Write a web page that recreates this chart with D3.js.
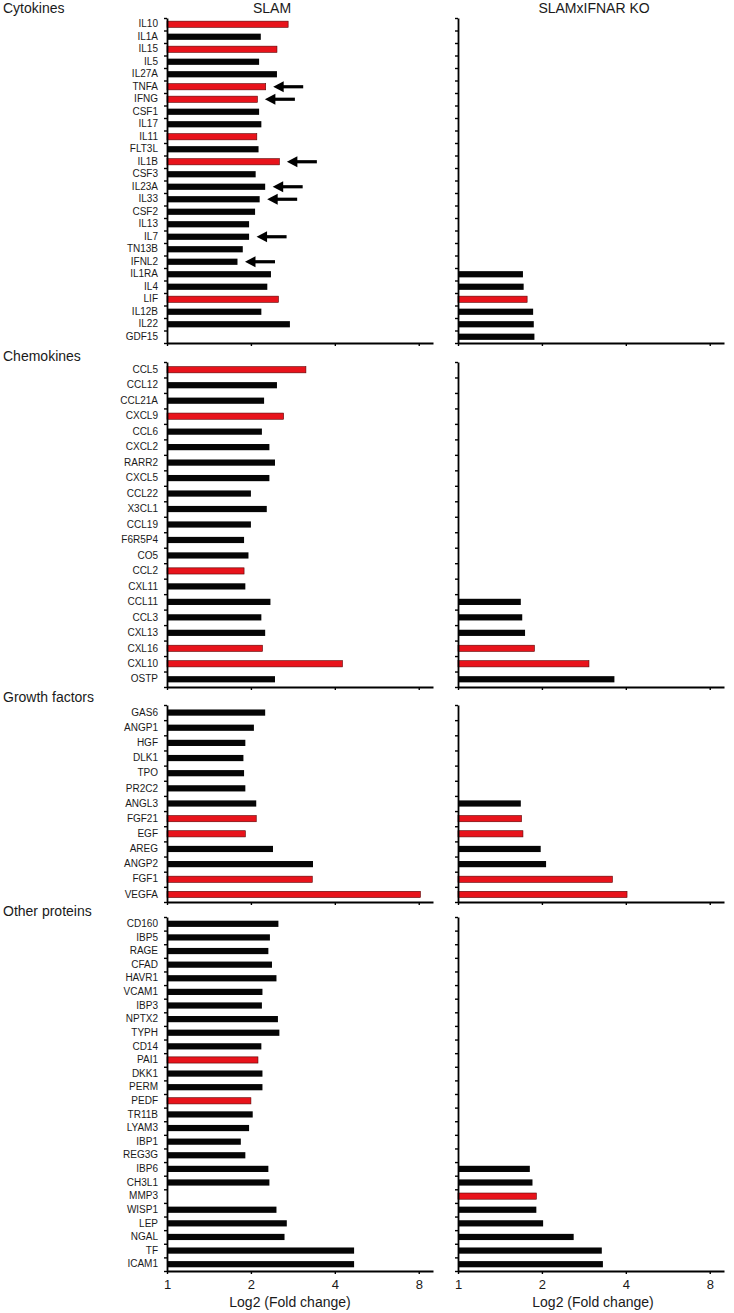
<!DOCTYPE html>
<html><head><meta charset="utf-8">
<script src="https://cdn.jsdelivr.net/npm/d3@7"></script>
<style>
body{margin:0;background:#fff}
svg{display:block}
text{font-family:"Liberation Sans",Arial,sans-serif;fill:#1a1a1a}
</style>
</head><body><svg id="c" width="734" height="1313"></svg>
<script>
const columnTitles = ["SLAM", "SLAMxIFNAR KO"];
const groupNames = ["Cytokines", "Chemokines", "Growth factors", "Other proteins"];
const xTicks = [1, 2, 4, 8];
const xAxisTitle = "Log2 (Fold change)";

const cytokineLabels = ["IL10","IL1A","IL15","IL5","IL27A","TNFA","IFNG","CSF1","IL17","IL11","FLT3L","IL1B","CSF3","IL23A","IL33","CSF2","IL13","IL7","TN13B","IFNL2","IL1RA","IL4","LIF","IL12B","IL22","GDF15"];
const cytokineSLAM = [2.72,2.17,2.48,2.14,2.48,2.26,2.11,2.14,2.18,2.10,2.13,2.53,2.08,2.25,2.15,2.07,1.97,1.97,1.87,1.79,2.36,2.29,2.51,2.18,2.76,null];
const cytokineKO = [null,null,null,null,null,null,null,null,null,null,null,null,null,null,null,null,null,null,null,null,1.71,1.72,1.77,1.86,1.87,1.88];
const cytokineRed = ["IL10","IL15","TNFA","IFNG","IL11","IL1B","LIF"];
const cytokineArrows = ["TNFA","IFNG","IL1B","IL23A","IL33","IL7","IFNL2"];

const chemokineLabels = ["CCL5","CCL12","CCL21A","CXCL9","CCL6","CXCL2","RARR2","CXCL5","CCL22","X3CL1","CCL19","F6R5P4","CO5","CCL2","CXL11","CCL11","CCL3","CXL13","CXL16","CXL10","OSTP"];
const chemokineSLAM = [3.15,2.48,2.23,2.62,2.19,2.33,2.44,2.33,2.00,2.28,2.00,1.89,1.96,1.89,1.91,2.35,2.18,2.25,2.20,4.26,2.44];
const chemokineKO = [null,null,null,null,null,null,null,null,null,null,null,null,null,null,null,1.68,1.70,1.74,1.88,2.95,3.64];
const chemokineRed = ["CCL5","CXCL9","CCL2","CXL16","CXL10"];

const growthLabels = ["GAS6","ANGP1","HGF","DLK1","TPO","PR2C2","ANGL3","FGF21","EGF","AREG","ANGP2","FGF1","VEGFA"];
const growthSLAM = [2.25,2.05,1.91,1.88,1.89,1.91,2.09,2.09,1.91,2.40,3.34,3.32,8.11];
const growthKO = [null,null,null,null,null,null,1.68,1.69,1.71,1.98,2.07,3.58,4.04];
const growthRed = ["FGF21","EGF","FGF1","VEGFA"];

const otherLabels = ["CD160","IBP5","RAGE","CFAD","HAVR1","VCAM1","IBP3","NPTX2","TYPH","CD14","PAI1","DKK1","PERM","PEDF","TR11B","LYAM3","IBP1","REG3G","IBP6","CH3L1","MMP3","WISP1","LEP","NGAL","TF","ICAM1"];
const otherSLAM = [2.51,2.34,2.31,2.38,2.47,2.20,2.19,2.50,2.53,2.18,2.12,2.20,2.20,2.00,2.03,1.97,1.84,1.91,2.31,2.33,null,2.47,2.69,2.64,4.69,4.69];
const otherKO = [null,null,null,null,null,null,null,null,null,null,null,null,null,null,null,null,null,null,1.81,1.85,1.91,1.91,2.02,2.60,3.28,3.31];
const otherRed = ["PAI1","PEDF","MMP3"];

// ---- layout ----
const groups = [
  {name: groupNames[0], labels: cytokineLabels, series: [cytokineSLAM, cytokineKO], red: cytokineRed, arrows: cytokineArrows},
  {name: groupNames[1], labels: chemokineLabels, series: [chemokineSLAM, chemokineKO], red: chemokineRed, arrows: []},
  {name: groupNames[2], labels: growthLabels, series: [growthSLAM, growthKO], red: growthRed, arrows: []},
  {name: groupNames[3], labels: otherLabels, series: [otherSLAM, otherKO], red: otherRed, arrows: []}
];
const rows = [
  {top: 18, bottom: 343, titleY: 13},
  {top: 362, bottom: 687, titleY: 361},
  {top: 705, bottom: 902, titleY: 702},
  {top: 917, bottom: 1271, titleY: 916}
];
const cols = [[167, 433], [458, 724]];
const colTitleX = [272, 594];
const axisTitleX = [290, 593];
const RED = "#e8131b";
const BAR_H = 6.2;

const svg = d3.select("#c");

columnTitles.forEach((t, i) => {
  svg.append("text").attr("x", colTitleX[i]).attr("y", 13)
    .attr("text-anchor", "middle").attr("font-size", 14).text(t);
});

groups.forEach((g, gi) => {
  const r = rows[gi];
  svg.append("text").attr("x", 3).attr("y", r.titleY).attr("font-size", 14).text(g.name);
  const y = d3.scaleBand().domain(g.labels).range([r.top, r.bottom]).paddingInner(0).paddingOuter(0);
  const n = g.labels.length;
  const yB = d3.scaleLinear().domain([0, n]).range([r.top, r.bottom]);

  cols.forEach((cr, ci) => {
    const x = d3.scaleLog().base(2).domain([1, 9]).range(cr);
    const gp = svg.append("g");
    const data = g.labels.map((l, i) => ({label: l, v: g.series[ci][i]})).filter(d => d.v != null);

    // bars
    gp.selectAll("rect.bar").data(data).join("rect")
      .attr("class", "bar")
      .attr("x", x(1))
      .attr("y", d => y(d.label) + (y.bandwidth() - BAR_H) / 2)
      .attr("width", d => x(d.v) - x(1))
      .attr("height", BAR_H)
      .attr("fill", d => g.red.includes(d.label) ? RED : "#050505")
      .attr("stroke", d => g.red.includes(d.label) ? "#5a0000" : "none")
      .attr("stroke-width", 0.6);

    // arrows (SLAM only)
    if (ci === 0) {
      const ad = data.filter(d => g.arrows.includes(d.label));
      const ag = gp.selectAll("g.arrow").data(ad).join("g").attr("class", "arrow")
        .attr("transform", d => `translate(${x(d.v) + 7.5},${y(d.label) + y.bandwidth() / 2})`);
      ag.append("line").attr("x1", 9).attr("x2", 30).attr("y1", 0).attr("y2", 0)
        .attr("stroke", "#000").attr("stroke-width", 3.2);
      ag.append("path").attr("d", "M0,0L10.5,-5.5L10.5,5.5Z").attr("fill", "#000");
    }

    // y axis with boundary ticks
    const ya = gp.append("g").attr("transform", `translate(${cr[0]},0)`)
      .call(d3.axisLeft(yB).tickValues(d3.range(n + 1)).tickSize(3).tickSizeOuter(0).tickFormat(""));
    ya.select(".domain").attr("stroke-width", 1.8).attr("stroke", "#000");
    ya.selectAll(".tick line").attr("stroke-width", 1.4).attr("stroke", "#000");

    // labels (left column)
    if (ci === 0) {
      const la = gp.append("g").attr("transform", `translate(${cr[0]},0)`)
        .call(d3.axisLeft(y).tickSize(0).tickPadding(9));
      la.select(".domain").remove();
      la.selectAll("text").attr("font-size", 10).attr("fill", "#1a1a1a")
        .attr("font-family", "'Liberation Sans',Arial,sans-serif");
    }

    // x axis
    const last = gi === groups.length - 1;
    const xa = gp.append("g").attr("transform", `translate(0,${r.bottom})`)
      .call(d3.axisBottom(x).tickValues(xTicks).tickSize(3).tickSizeOuter(0).tickPadding(6)
        .tickFormat(last ? d3.format("d") : () => ""));
    xa.select(".domain").attr("stroke-width", 1.8).attr("stroke", "#000");
    xa.selectAll(".tick line").attr("stroke-width", 1.4).attr("stroke", "#000");
    xa.selectAll("text").attr("font-size", 13).attr("fill", "#1a1a1a")
      .attr("font-family", "'Liberation Sans',Arial,sans-serif");
    if (last) {
      svg.append("text").attr("x", axisTitleX[ci]).attr("y", 1307)
        .attr("text-anchor", "middle").attr("font-size", 14).text(xAxisTitle);
    }
  });
});
</script>
</body></html>
